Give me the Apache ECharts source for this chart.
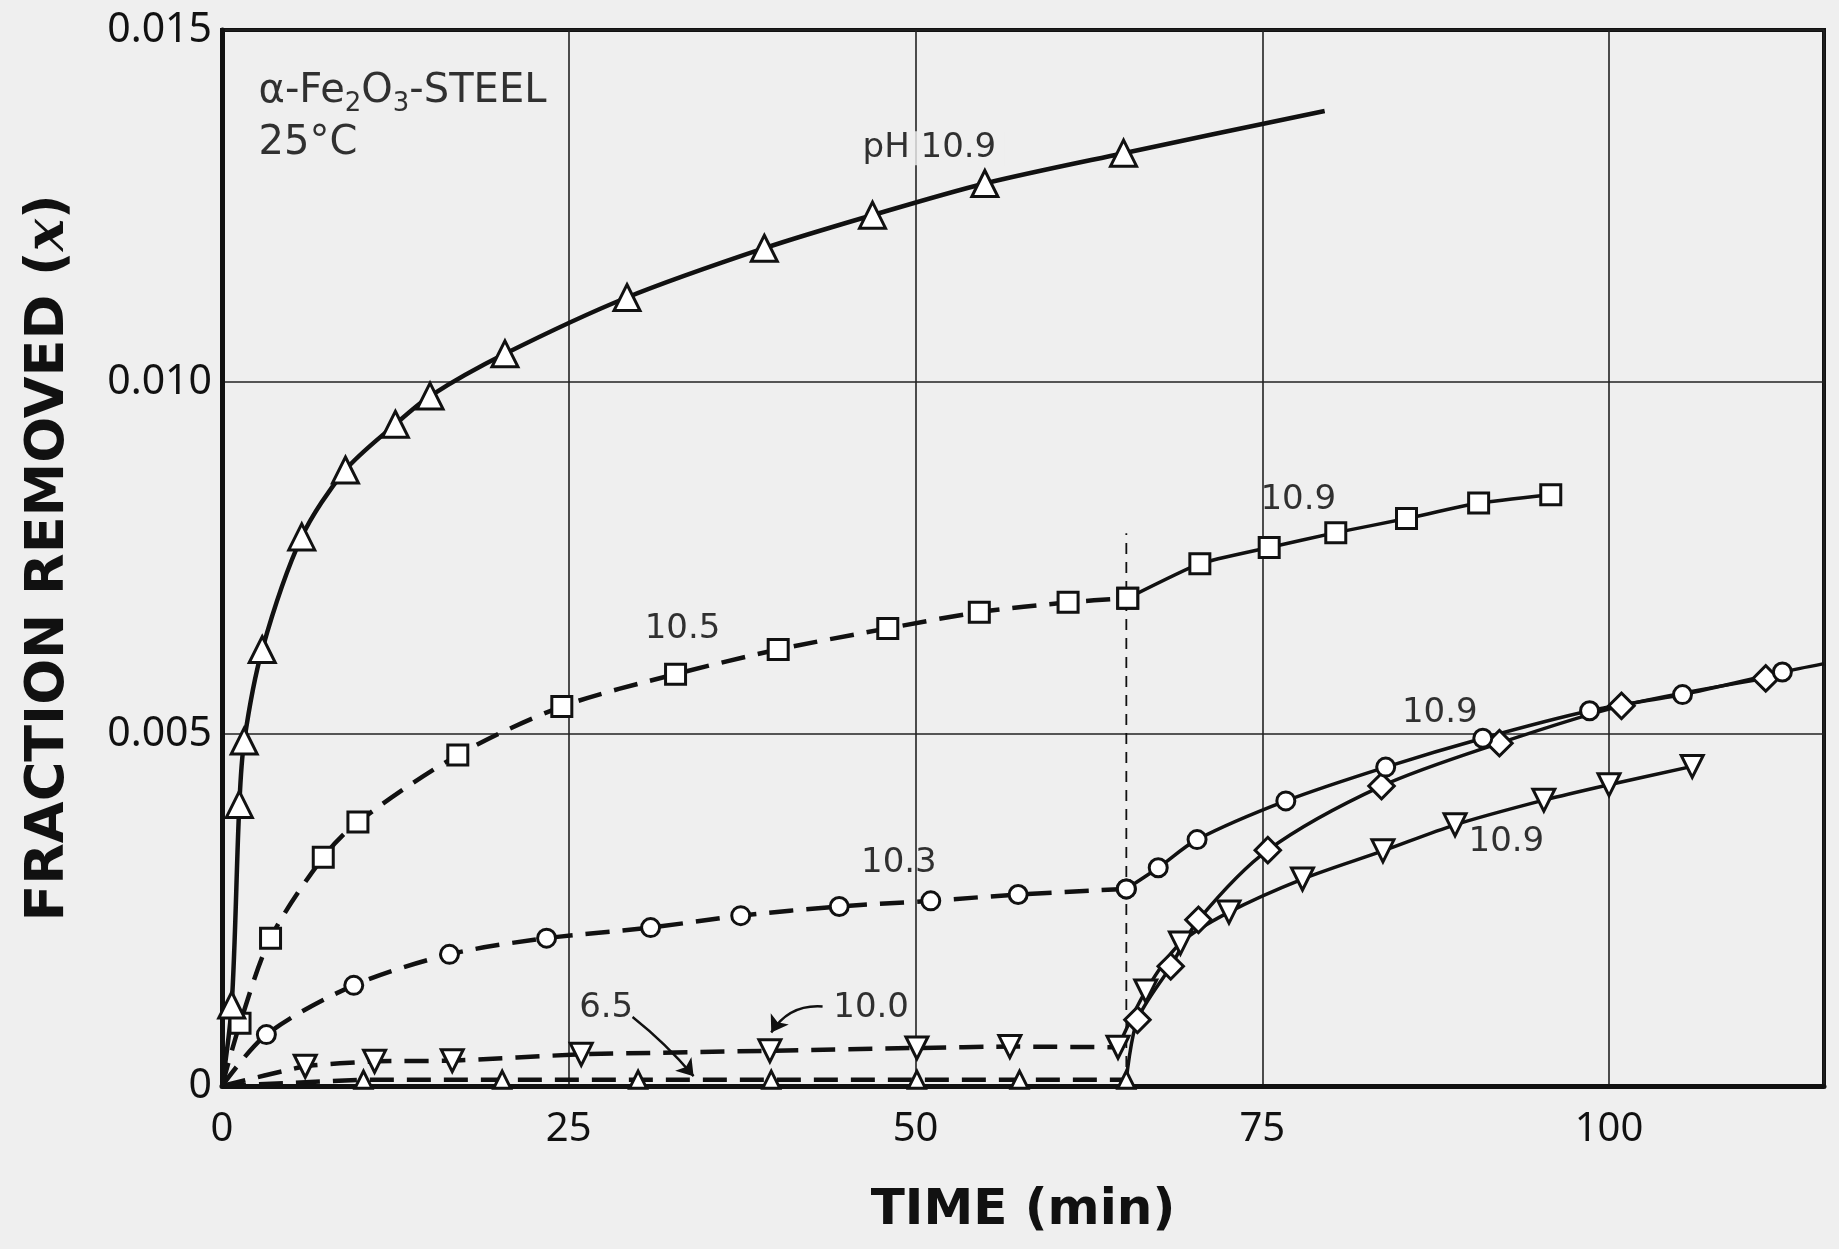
<!DOCTYPE html>
<html>
<head>
<meta charset="utf-8">
<title>Fraction removed vs time</title>
<style>
  html, body { margin: 0; padding: 0; background: #efefef; }
  #main { width: 1839px; height: 1249px; }
</style>
</head>
<body>
<div id="main"></div>
<script src="https://cdn.jsdelivr.net/npm/echarts@6.0.0/dist/echarts.min.js"></script>
<script>
// time (min), fraction removed
var tri109 = [[0, 0], [0.7, 0.00115], [1.25, 0.0040], [1.6, 0.0049], [2.9, 0.0062], [5.75, 0.0078],
  [8.9, 0.00875], [12.5, 0.0094], [15.0, 0.0098], [20.4, 0.0104], [29.2, 0.0112], [39.1, 0.0119],
  [46.9, 0.01237], [55.0, 0.01282], [65.0, 0.01325], [79.5, 0.01385]];
var sq105 = [[0, 0], [1.3, 0.00089], [3.5, 0.0021], [7.3, 0.00325], [9.8, 0.00375], [17.0, 0.0047],
  [24.5, 0.00539], [32.7, 0.00585], [40.1, 0.0062], [48.0, 0.0065], [54.6, 0.00673], [61.0, 0.00687],
  [65.3, 0.00693]];
var sq109 = [[65.3, 0.00693], [70.5, 0.00742], [75.5, 0.00765], [80.3, 0.00786], [85.4, 0.00806],
  [90.6, 0.00828], [95.8, 0.0084]];
var ci103 = [[0, 0], [3.2, 0.00073], [9.5, 0.00143], [16.4, 0.00187], [23.4, 0.0021], [30.9, 0.00225],
  [37.4, 0.00242], [44.5, 0.00255], [51.1, 0.00263], [57.4, 0.00272], [65.2, 0.0028]];
var ci109 = [[65.2, 0.0028], [67.5, 0.0031], [70.3, 0.0035], [76.7, 0.00405], [83.9, 0.00453],
  [90.9, 0.00494], [98.6, 0.00533], [105.3, 0.00556], [112.5, 0.00588], [115.5, 0.006]];
var dn100 = [[0, 0], [6.0, 0.00028], [11.0, 0.00035], [16.6, 0.00036], [25.9, 0.00045], [39.5, 0.0005],
  [50.1, 0.00054], [56.8, 0.00056], [64.6, 0.00055]];
var dn109 = [[64.6, 0.00055], [66.6, 0.00135], [69.1, 0.00203], [72.6, 0.00247], [77.9, 0.00294],
  [83.7, 0.00334], [88.9, 0.00371], [95.3, 0.00406], [100.0, 0.00428], [106.0, 0.00454]];
var up65 = [[0, 0], [10.2, 0.00009], [20.2, 0.00009], [30.0, 0.00009], [39.6, 0.00009], [50.1, 0.00009],
  [57.5, 0.00009], [65.2, 0.00009]];
var di109 = [[65.2, 0.00009], [66.0, 0.00094], [68.4, 0.0017], [70.4, 0.00236], [75.4, 0.00335],
  [83.6, 0.00426], [92.1, 0.00487], [100.9, 0.0054], [111.3, 0.00579]];
var switchLine = [[65.2, 0], [65.2, 0.00785]];

var xTicks = [0, 25, 50, 75, 100];
var yTicks = ['0', '0.005', '0.010', '0.015'];

// label text, time, fraction
var notes = [
  ['pH 10.9', 51.0, 0.01332],
  ['10.5', 33.2, 0.00649],
  ['10.9', 77.6, 0.00832],
  ['10.3', 48.8, 0.00316],
  ['10.9', 87.8, 0.0053],
  ['10.9', 92.6, 0.00346],
  ['10.0', 46.8, 0.0011],
  ['6.5', 27.7, 0.0011]
];
var sideNotes = [
  ['α-Fe{s|2}O{s|3}-STEEL', 2.6, 0.01412],
  ['25°C', 2.6, 0.01338]
];
// from, to, curvature
var arrows = [
  [[43.3, 0.00113], [39.6, 0.00076], -0.3],
  [[29.6, 0.00098], [34.0, 0.00014], 0.05]
];

var ink = '#111';
var FONT = 'Noto Sans';
var NOTE_FONT = 'DejaVu Sans';

function marks(arr, bare) {
  return arr.map(function (p, i) {
    if (bare.indexOf(i) >= 0) return { value: p, symbol: 'none' };
    return p;
  });
}

function curve(name, arr, bare, symbol, size, dashed, extra) {
  var s = {
    name: name,
    type: 'line',
    data: marks(arr, bare),
    symbol: symbol,
    symbolSize: size,
    showAllSymbol: true,
    smooth: 0.3,
    z: 3,
    lineStyle: { color: ink, width: dashed ? 4.5 : 3.5, type: dashed ? [24, 13] : 'solid' },
    itemStyle: { color: '#fff', borderColor: ink, borderWidth: 3 },
    emphasis: { disabled: true }
  };
  for (var k in extra) s[k] = extra[k];
  return s;
}

var chart = echarts.init(document.getElementById('main'));

chart.setOption({
  backgroundColor: '#efefef',
  animation: false,
  grid: {
    left: 222, right: 15, top: 30, bottom: 163,
    show: true, borderColor: ink, borderWidth: 4
  },
  xAxis: {
    type: 'value',
    min: 0, max: 115.5, interval: 25,
    name: 'TIME (min)',
    nameLocation: 'middle',
    nameGap: 100,
    nameTextStyle: { fontFamily: 'DejaVu Sans', fontWeight: 'bold', fontSize: 50, color: ink },
    axisLine: { lineStyle: { color: ink, width: 5 } },
    axisTick: { show: false },
    axisLabel: {
      margin: 24, fontFamily: FONT, fontSize: 40, color: ink, showMaxLabel: false,
      formatter: function (v) { return xTicks.indexOf(v) >= 0 ? String(v) : ''; }
    },
    splitLine: { lineStyle: { color: '#222', width: 1.6 } }
  },
  yAxis: {
    type: 'value',
    min: 0, max: 0.015, interval: 0.005,
    name: 'FRACTION REMOVED ({i|x})',
    nameLocation: 'middle',
    nameGap: 146,
    nameTextStyle: {
      fontFamily: 'DejaVu Sans', fontWeight: 'bold', fontSize: 54, color: ink,
      rich: { i: { fontFamily: 'DejaVu Serif', fontStyle: 'italic', fontWeight: 'bold', fontSize: 54, color: ink } }
    },
    axisLine: { lineStyle: { color: ink, width: 5 } },
    axisTick: { show: false },
    axisLabel: {
      margin: 10, fontFamily: FONT, fontSize: 41, color: ink,
      formatter: function (v) { return yTicks[Math.round(v / 0.005)]; }
    },
    splitLine: { lineStyle: { color: '#222', width: 1.6 } }
  },
  series: [
    {
      type: 'line', data: switchLine, symbol: 'none', z: 2,
      lineStyle: { color: ink, width: 1.8, type: [11, 8] }
    },
    curve('6.5', up65, [0], 'triangle', 17, true, { smooth: false }),
    curve('10.9 diamonds', di109, [0], 'rect', 18, false, { symbolRotate: 45 }),
    curve('10.0', dn100, [0], 'triangle', 22, true, { symbolRotate: 180, smooth: 0.15 }),
    curve('10.9 down', dn109, [0], 'triangle', 22, false, { symbolRotate: 180 }),
    curve('10.3', ci103, [0], 'circle', 18, true, {}),
    curve('10.9 circles', ci109, [ci109.length - 1], 'circle', 18, false, {}),
    curve('10.5', sq105, [0], 'rect', 20, true, {}),
    curve('10.9 squares', sq109, [], 'rect', 20, false, { smooth: 0.15 }),
    curve('pH 10.9', tri109, [0, tri109.length - 1], 'triangle', 26, false, { lineStyle: { color: ink, width: 4.5 } }),
    {
      type: 'lines', coordinateSystem: 'cartesian2d', z: 4,
      symbol: ['none', 'arrow'], symbolSize: 16,
      lineStyle: { color: ink, width: 2.4, opacity: 1 },
      data: arrows.map(function (a) { return { coords: [a[0], a[1]], lineStyle: { curveness: a[2] } }; })
    },
    {
      type: 'scatter', z: 6, symbolSize: 1, itemStyle: { color: 'rgba(0,0,0,0)' },
      label: {
        show: true, position: 'inside', formatter: '{b}',
        fontFamily: NOTE_FONT, fontSize: 34, color: '#000', textBorderWidth: 0
      },
      data: notes.map(function (n, i) {
        var d = { name: n[0], value: [n[1], n[2]] };
        if (i === 0) d.label = { backgroundColor: '#efefef', padding: [0, 8] };
        return d;
      })
    },
    {
      type: 'scatter', z: 6, symbolSize: 1, itemStyle: { color: 'rgba(0,0,0,0)' },
      label: {
        show: true, position: 'right', distance: 0, formatter: '{b}',
        fontFamily: NOTE_FONT, fontSize: 40, color: '#000', textBorderWidth: 0,
        lineHeight: 50, verticalAlign: 'middle',
        rich: { s: { fontFamily: NOTE_FONT, fontSize: 26, color: '#000', lineHeight: 24, verticalAlign: 'bottom' } }
      },
      data: sideNotes.map(function (n) { return { name: n[0], value: [n[1], n[2]] }; })
    }
  ]
});
</script>
</body>
</html>
